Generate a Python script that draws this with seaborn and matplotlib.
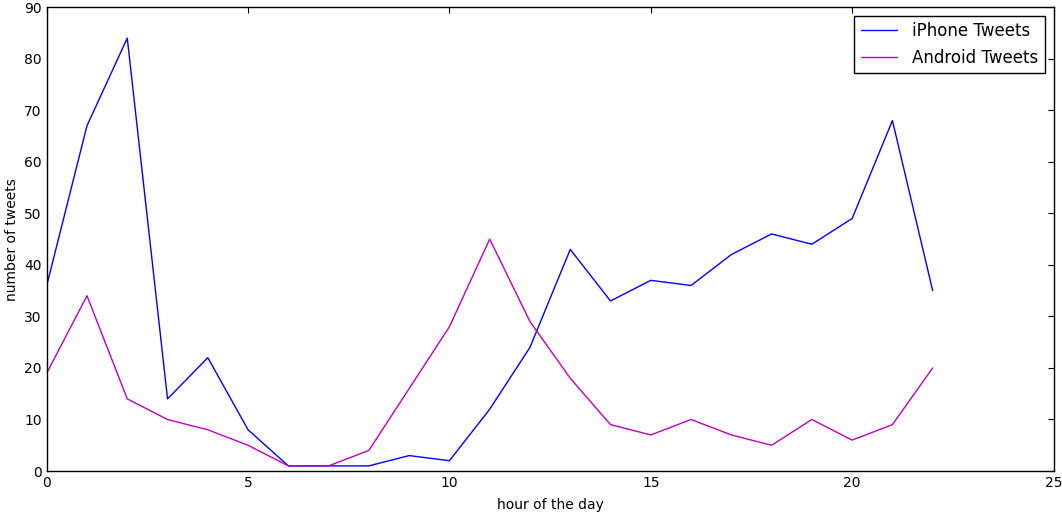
import numpy as np
import pandas as pd
import matplotlib
matplotlib.use('Agg')
import matplotlib.pyplot as plt
import seaborn as sns

# tweets per hour, iPhone vs Android
hours = list(range(23))
iphone = [36, 67, 84, 14, 22, 8, 1, 1, 1, 3, 2, 12, 24, 43, 33, 37, 36, 42, 46, 44, 49, 68, 35]
android = [19, 34, 14, 10, 8, 5, 1, 1, 4, 16, 28, 45, 29, 18, 9, 7, 10, 7, 5, 10, 6, 9, 20]

df = pd.DataFrame({'hour': hours, 'iPhone Tweets': iphone, 'Android Tweets': android})
long = df.melt(id_vars='hour', var_name='source', value_name='tweets')

sns.set_style('white')
plt.rcParams['font.family'] = ['DejaVu Sans']
plt.rcParams['text.color'] = 'black'
plt.rcParams['axes.labelcolor'] = 'black'

fig, ax = plt.subplots(figsize=(10.62, 5.12), dpi=100)
fig.subplots_adjust(left=0.044, right=0.992, top=0.986, bottom=0.08)

sns.lineplot(data=long, x='hour', y='tweets', hue='source',
             palette={'iPhone Tweets': 'b', 'Android Tweets': 'm'},
             linewidth=1, ax=ax)

ax.set_xlim(0, 25)
ax.set_ylim(0, 90)
ax.set_xticks(range(0, 26, 5))
ax.set_yticks(range(0, 91, 10))
ax.set_xlabel('hour of the day', fontsize=10, labelpad=6)
ax.set_ylabel('number of tweets', fontsize=10)
ax.tick_params(direction='in', top=True, right=True, length=4, width=0.8,
               labelsize=10, colors='black')
for s in ax.spines.values():
    s.set_color('black')
    s.set_linewidth(1)

leg = ax.legend(loc='upper right', fontsize=12, frameon=True, fancybox=False,
                edgecolor='black', framealpha=1, borderaxespad=0.5,
                handlelength=2.2, handletextpad=0.9)
leg.get_frame().set_linewidth(1)
for t in leg.get_texts():
    t.set_color('black')

plt.savefig('out.png', dpi=100)
